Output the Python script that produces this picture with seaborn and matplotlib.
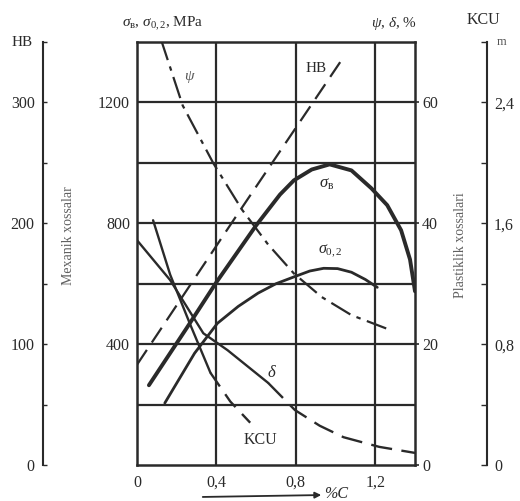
import matplotlib
matplotlib.use("Agg")
import matplotlib.pyplot as plt
import seaborn as sns
import pandas as pd

sns.set_theme(style="white")
plt.rcParams["font.family"] = ["Liberation Serif", "DejaVu Serif"]
plt.rcParams["mathtext.fontset"] = "custom"
plt.rcParams["mathtext.rm"] = "Liberation Serif"
plt.rcParams["mathtext.it"] = "Liberation Serif:italic"
plt.rcParams["lines.solid_joinstyle"] = "round"
plt.rcParams["lines.dash_joinstyle"] = "round"

# ---- data ----
# tensile strength sigma_B and yield strength sigma_0.2, MPa
c_sb = [0.06, 0.25, 0.40, 0.60, 0.72, 0.79, 0.88, 0.97, 1.08, 1.18, 1.26, 1.33, 1.375, 1.40]
sigma_b = [264, 453, 605, 793, 895, 942, 978, 995, 975, 916, 860, 777, 680, 575]
c_s02 = [0.14, 0.29, 0.405, 0.51, 0.61, 0.70, 0.80, 0.87, 0.94, 1.01, 1.08, 1.15, 1.21]
sigma_02 = [205, 370, 469, 525, 569, 600, 625, 642, 651, 650, 638, 614, 588]
# reduction of area psi and elongation delta, %
c_psi = [0.12, 0.23, 0.385, 0.53, 0.66, 0.79, 0.93, 1.08, 1.255]
psi = [70.5, 59.5, 49.9, 42.2, 36.5, 31.7, 27.8, 24.8, 22.6]
c_delta = [0.0, 0.167, 0.334, 0.456, 0.66, 0.795, 0.92, 1.04, 1.22, 1.40]
delta = [37.2, 30.6, 21.8, 19.0, 13.6, 9.1, 6.5, 4.6, 3.0, 2.0]
# Brinell hardness
c_hb = [0.0, 0.5, 1.03]
hb = [83, 206, 335]
# impact toughness KCU
c_kcu = [0.081, 0.167, 0.268, 0.37, 0.47, 0.57]
kcu = [1.62, 1.26, 0.93, 0.61, 0.42, 0.28]

x_ticks = [0, 0.4, 0.8, 1.2]
x_labels = ["0", "0,4", "0,8", "1,2"]
mpa_ticks = [400, 800, 1200]
pct_ticks = [0, 20, 40, 60]
hb_ticks = [0, 100, 200, 300]
kcu_ticks = [0, 0.8, 1.6, 2.4]
kcu_labels = ["0", "0,8", "1,6", "2,4"]

W, H = 520, 501
INK = "#2a2a2a"
fig = plt.figure(figsize=(W / 100, H / 100), dpi=100, facecolor="white")
L, R, T, B = 137, 415, 42, 465
ax = fig.add_axes([L / W, 1 - B / H, (R - L) / W, (B - T) / H])
ax.set_facecolor("white")
ax.set_xlim(0, 1.4)
ax.set_ylim(0, 1400)

ax_pct = ax.twinx()
ax_hb = ax.twinx()
ax_kcu = ax.twinx()
ax_pct.set_ylim(0, 70)
ax_hb.set_ylim(0, 350)
ax_kcu.set_ylim(0, 2.8)

# grid
ax.set_xticks(x_ticks)
ax.set_xticklabels(x_labels)
ax.set_yticks(mpa_ticks)
for v in [0.4, 0.8, 1.2]:
    ax.axvline(v, color=INK, lw=1.6, zorder=0)
for v in range(200, 1400, 200):
    ax.axhline(v, color=INK, lw=1.6, zorder=0)
for s in ax.spines.values():
    s.set_color(INK)
    s.set_linewidth(1.8)
ax.tick_params(axis="x", length=0, pad=7, labelsize=11.5, colors=INK)
ax.tick_params(axis="y", which="both", length=0, pad=5, labelsize=11.5, colors=INK)

# curves
df_sb = pd.DataFrame({"C": c_sb, "v": sigma_b})
df_s02 = pd.DataFrame({"C": c_s02, "v": sigma_02})
sns.lineplot(data=df_sb, x="C", y="v", ax=ax, color=INK, lw=2.8, estimator=None, legend=False)
sns.lineplot(data=df_s02, x="C", y="v", ax=ax, color=INK, lw=2.0, estimator=None, legend=False)

df_psi = pd.DataFrame({"C": c_psi, "v": psi})
sns.lineplot(data=df_psi, x="C", y="v", ax=ax_pct, color=INK, lw=1.6, estimator=None, legend=False)
ax_pct.lines[-1].set_dashes([10, 3, 2, 3])
df_del = pd.DataFrame({"C": c_delta, "v": delta})
d1 = df_del[df_del.C <= 0.66]
d2 = df_del[df_del.C >= 0.66]
sns.lineplot(data=d1, x="C", y="v", ax=ax_pct, color=INK, lw=1.7, estimator=None, legend=False)
sns.lineplot(data=d2, x="C", y="v", ax=ax_pct, color=INK, lw=1.7, estimator=None, legend=False)
ax_pct.lines[-1].set_dashes([9, 4])

df_hb = pd.DataFrame({"C": c_hb, "v": hb})
sns.lineplot(data=df_hb, x="C", y="v", ax=ax_hb, color=INK, lw=1.6, estimator=None, legend=False)
ax_hb.lines[-1].set_dashes([8, 4])
df_kcu = pd.DataFrame({"C": c_kcu, "v": kcu})
k1 = df_kcu[df_kcu.C <= 0.37]
k2 = df_kcu[df_kcu.C >= 0.37]
sns.lineplot(data=k1, x="C", y="v", ax=ax_kcu, color=INK, lw=1.7, estimator=None, legend=False)
sns.lineplot(data=k2, x="C", y="v", ax=ax_kcu, color=INK, lw=1.7, estimator=None, legend=False)
ax_kcu.lines[-1].set_dashes([7, 4])

for a in (ax, ax_pct, ax_hb, ax_kcu):
    a.set_xlabel("")
    a.set_ylabel("")
ax.set_xlim(0, 1.4)

# percent axis (right frame)
for s in ax_pct.spines.values():
    s.set_visible(False)
ax_pct.set_yticks(pct_ticks)
ax_pct.tick_params(axis="y", length=3, width=1.2, pad=2, labelsize=11.5, colors=INK)

# HB axis (far left)
for k in ("top", "bottom", "right"):
    ax_hb.spines[k].set_visible(False)
ax_hb.spines["left"].set_visible(True)
ax_hb.spines["left"].set_position(("axes", (43 - L) / (R - L)))
ax_hb.spines["left"].set_color(INK)
ax_hb.spines["left"].set_linewidth(1.5)
ax_hb.yaxis.set_ticks_position("left")
ax_hb.set_yticks(hb_ticks)
ax_hb.set_yticks([50, 150, 250, 350], minor=True)
ax_hb.tick_params(axis="y", which="both", direction="in", length=3, width=1.0,
                  pad=6, labelsize=11.5, colors=INK)

# KCU axis (far right)
for k in ("top", "bottom", "left"):
    ax_kcu.spines[k].set_visible(False)
ax_kcu.spines["right"].set_position(("axes", (487 - L) / (R - L)))
ax_kcu.spines["right"].set_color(INK)
ax_kcu.spines["right"].set_linewidth(1.5)
ax_kcu.set_yticks(kcu_ticks)
ax_kcu.set_yticklabels(kcu_labels)
ax_kcu.set_yticks([0.4, 1.2, 2.0, 2.8], minor=True)
ax_kcu.tick_params(axis="y", which="both", direction="in", length=4, width=1.0,
                   pad=5, labelsize=11.5, colors=INK)


def ftext(x, y, s, **kw):
    kw.setdefault("color", INK)
    kw.setdefault("fontsize", 11)
    kw.setdefault("ha", "center")
    kw.setdefault("va", "center")
    fig.text(x / W, 1 - y / H, s, **kw)


ftext(163, 24, r"$\sigma_{\mathrm{в}}$, $\sigma_{\mathrm{0,2}}$, MPa", fontsize=11)
ftext(417, 24, r"$\psi$, $\delta$, %", ha="right", fontsize=11)
ftext(483, 20, "KCU", fontsize=11.5)
ftext(502, 42, "m", fontsize=9, color="#555555")
ftext(22, 43, "HB", fontsize=11)
ftext(68, 236, "Mexanik xossalar", rotation=90, fontsize=10, color="#606060")
ftext(461, 245, "Plastiklik xossalari", rotation=90, fontsize=10, color="#606060")

# curve labels
ftext(190, 77, r"$\psi$", fontsize=11, color="#555555")
ftext(316, 68, "HB", fontsize=11)
ftext(327, 184, r"$\sigma_{\mathrm{в}}$", fontsize=12)
ftext(330, 251, r"$\sigma_{\mathrm{0,2}}$", fontsize=11.5)
ftext(272, 373, r"$\delta$", fontsize=12)
ftext(260, 440, "KCU", fontsize=11.5)

# %C arrow
fig.patches.append(matplotlib.patches.FancyArrowPatch(
    (200 / W, 1 - 497 / H), (324 / W, 1 - 495 / H), transform=fig.transFigure,
    arrowstyle="-|>", mutation_scale=9, color=INK, lw=1.3))
ftext(336, 494, "%C", fontsize=11.5, style="italic")

fig.savefig("out.png", dpi=100, facecolor="white")
